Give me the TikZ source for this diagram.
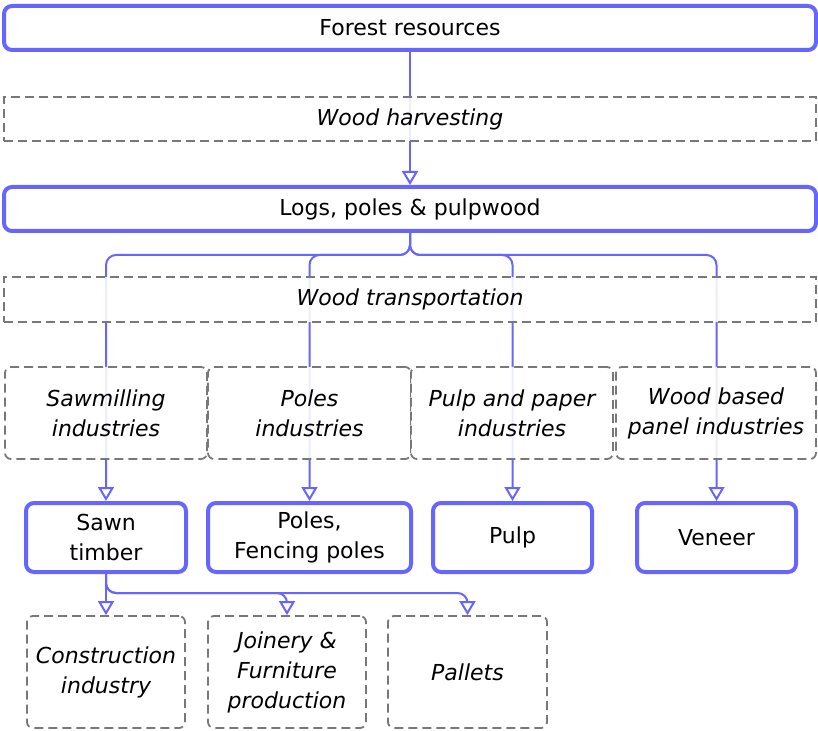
\documentclass[tikz,border=0pt]{standalone}
\usepackage{fontspec}
\setmainfont{DejaVu Sans}
\usetikzlibrary{arrows.meta, backgrounds}
\definecolor{flowblue}{RGB}{102,102,255}
\definecolor{stepgray}{RGB}{120,120,120}

\begin{document}
\begin{tikzpicture}[x=0.5pt, y=-0.5pt,
  product/.style={draw=flowblue, line width=2pt, rounded corners=4pt, fill=white,
                  align=center, inner sep=0pt, font=\fontsize{11}{15}\selectfont},
  process/.style={draw=stepgray, line width=0.9pt, dash pattern=on 4.5pt off 2.5pt,
                  fill=white, fill opacity=0.88, text opacity=1,
                  align=center, inner sep=0pt, font=\fontsize{11}{15}\selectfont\itshape},
  industry/.style={process, rounded corners=3pt},
  flow/.style={draw=flowblue, line width=1pt, rounded corners=5pt,
               -{Triangle[open, length=7pt, width=8pt, fill=white]}}
]
\useasboundingbox (0,0) rectangle (818,731);

% Main chain
\node[product, minimum width=406pt, minimum height=22pt] (forest) at (410,28) {Forest resources};
\node[process, minimum width=406pt, minimum height=22pt] (harvest) at (410,119) {Wood harvesting};
\node[product, minimum width=406pt, minimum height=22pt] (logs) at (410,209) {Logs, poles \& pulpwood};
\node[process, minimum width=406pt, minimum height=22.5pt] (transport) at (410,299.5) {Wood transportation};

% Industries
\node[industry, minimum width=101pt, minimum height=46pt] (sawind)   at (106,413)   {Sawmilling\\industries};
\node[industry, minimum width=101.5pt, minimum height=46pt] (poleind) at (309.5,413) {Poles\\industries};
\node[industry, minimum width=101pt, minimum height=46pt] (pulpind)  at (512,413)   {Pulp and paper\\industries};
\node[industry, minimum width=100pt, minimum height=46pt] (panelind) at (716,413)   {Wood based\\panel industries};

% Products
\node[product, minimum width=80pt, minimum height=34.5pt]    (sawn)   at (106,537.5)   {Sawn\\timber};
\node[product, minimum width=101.5pt, minimum height=34.5pt] (poles)  at (309.5,537.5) {Poles,\\Fencing poles};
\node[product, minimum width=79.5pt, minimum height=34.5pt]  (pulp)   at (512.5,537.5) {Pulp};
\node[product, minimum width=79.5pt, minimum height=34.5pt]  (veneer) at (716.5,537.5) {Veneer};

% End uses of sawn timber
\node[industry, minimum width=79pt, minimum height=56pt]   (construction) at (106,672)   {Construction\\industry};
\node[industry, minimum width=79pt, minimum height=56pt]   (joinery)      at (287,672)   {Joinery \&\\Furniture\\production};
\node[industry, minimum width=79.5pt, minimum height=56pt] (pallets)      at (467.5,672) {Pallets};

\coordinate (bus) at (0,255);
\coordinate (subbus) at (0,593);

% Connectors behind the dashed boxes
\begin{scope}[on background layer]
\draw[flow] (forest) -- (logs);
\foreach \t in {sawn, poles, pulp, veneer}
  \draw[flow] (logs.south) -- (logs.south |- bus) -- (\t.north |- bus) -- (\t.north);
\draw[flow] (sawn.south) -- (construction.north);
\foreach \t in {joinery, pallets}
  \draw[flow] (sawn.south) -- (sawn.south |- subbus) -- (\t.north |- subbus) -- (\t.north);
\end{scope}

\end{tikzpicture}
\end{document}
